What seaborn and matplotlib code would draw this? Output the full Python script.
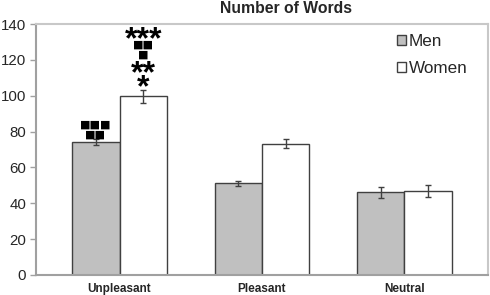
import numpy as np
import pandas as pd
import matplotlib
matplotlib.use('Agg')
import matplotlib.pyplot as plt
import seaborn as sns
from matplotlib.patches import Patch

# data
categories = ['Unpleasant', 'Pleasant', 'Neutral']
groups = ['Men', 'Women']
men = [74.1, 51.3, 46.2]
women = [99.7, 73.3, 46.8]
men_err = [1.6, 1.4, 3.1]
women_err = [3.7, 2.5, 3.2]

df = pd.DataFrame({
    'Category': categories * 2,
    'Group': ['Men'] * 3 + ['Women'] * 3,
    'Words': men + women,
})

sns.set_style('white')
plt.rcParams['font.family'] = ['Liberation Sans', 'DejaVu Sans']

fig = plt.figure(figsize=(4.9, 2.95), dpi=100)
ax = fig.add_axes([36/490, 1 - 275/295, 452/490, 251/295])

palette = {'Men': '#c0c0c0', 'Women': '#ffffff'}
sns.barplot(data=df, x='Category', y='Words', hue='Group', order=categories,
            hue_order=groups, palette=palette, width=2/3, gap=0,
            errorbar=None, edgecolor='#404040', linewidth=1.0, saturation=1,
            legend=False, ax=ax)

# error bars from the bar positions
bars = ax.patches
xs = [b.get_x() + b.get_width() / 2 for b in bars]
ys = [b.get_height() for b in bars]
errs = men_err + women_err
ax.errorbar(xs, ys, yerr=errs, fmt='none', ecolor='#404040', elinewidth=1,
            capsize=2.5, capthick=1)

# significance marks above the unpleasant bars
ux_m, ux_w = xs[0], xs[3]
top_m = men[0] + men_err[0]
top_w = women[0] + women_err[0]
sq = dict(ha='center', va='baseline', color='black', fontsize=8,
          family='DejaVu Sans', textcoords='offset points')
ast = dict(ha='center', va='baseline', color='black', fontweight='bold',
           fontsize=23, family='Liberation Sans', textcoords='offset points')
ax.annotate('\u25a0\u25a0', (ux_m, top_m), xytext=(0, 1.4), **sq)
ax.annotate('\u25a0\u25a0\u25a0', (ux_m, top_m), xytext=(0, 8.3), **sq)
ax.annotate('*', (ux_w, top_w), xytext=(0, -4.6), **ast)
ax.annotate('**', (ux_w, top_w), xytext=(0, 5.2), **ast)
ax.annotate('\u25a0', (ux_w, top_w), xytext=(0, 23), **sq)
ax.annotate('\u25a0\u25a0', (ux_w, top_w), xytext=(0, 29.9), **sq)
ax.annotate('***', (ux_w, top_w), xytext=(0, 30.0), **ast)

ax.set_ylim(0, 140)
ax.set_yticks(np.arange(0, 141, 20))
ax.set_xlim(-0.586, 2.586)
ax.set_xlabel('')
ax.set_ylabel('')
ax.tick_params(axis='y', left=True, length=4, width=1, color='#a0a0a0',
               labelsize=10.8, pad=3)
ax.tick_params(axis='x', bottom=False, labelsize=8.5, pad=2.5)
for lab in ax.get_xticklabels():
    lab.set_fontweight('bold')

for s in ['top', 'right']:
    ax.spines[s].set_color('#c8c8c8')
    ax.spines[s].set_linewidth(1.5)
for s in ['left', 'bottom']:
    ax.spines[s].set_color('#a0a0a0')
    ax.spines[s].set_linewidth(1.5)

ax.set_title('Number of Words', fontsize=11.3, fontweight='bold', x=0.553, pad=8)

handles = [Patch(facecolor=palette[g], edgecolor='#404040', linewidth=1) for g in groups]
ax.legend(handles, groups, loc='upper left', bbox_to_anchor=(0.765, 1.02),
          frameon=False, fontsize=12.3, handlelength=0.5, handleheight=0.5,
          handletextpad=0.2, labelspacing=0.7)

fig.savefig('out.png', dpi=100)
